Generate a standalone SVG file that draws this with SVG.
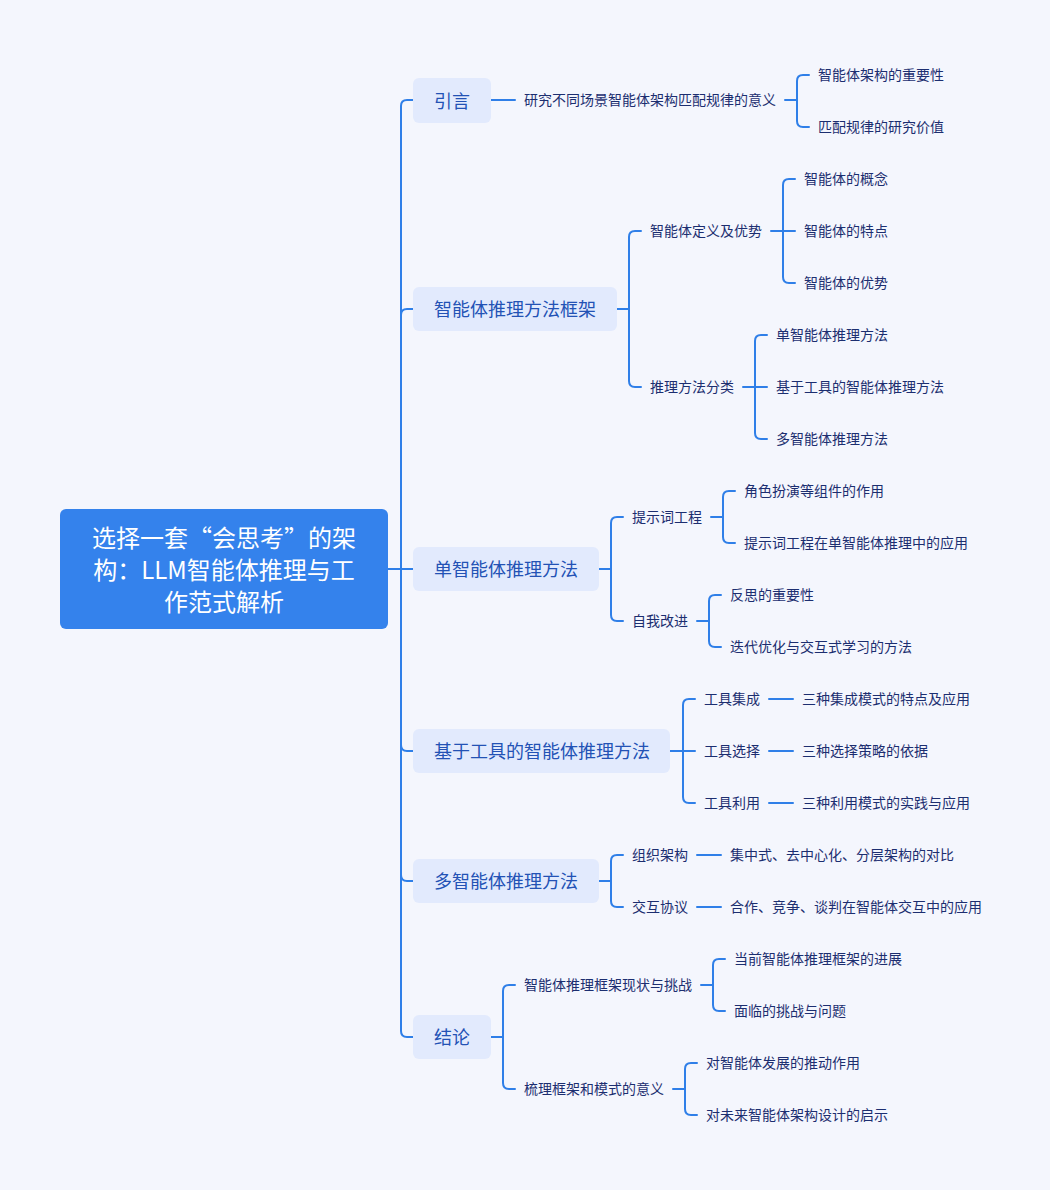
<svg xmlns="http://www.w3.org/2000/svg" width="1050" height="1190" viewBox="0 0 1050 1190">
<style>
.ln{fill:none;stroke:#2f7fe8;stroke-width:2;stroke-linecap:round}
.l1r{fill:#e2eafd}
.t1{font-family:"Noto Sans CJK SC","Noto Sans",sans-serif;font-size:18px;fill:#2352b5;dominant-baseline:central;transform:translateY(-1px)}
.t2{font-family:"Noto Sans CJK SC","Noto Sans",sans-serif;font-size:14px;fill:#1c2e70;dominant-baseline:central;transform:translateY(-1px)}
.t0{font-family:"Noto Sans CJK SC","Noto Sans",sans-serif;font-size:24px;fill:#ffffff;dominant-baseline:central;text-anchor:middle;transform:translateY(-1px)}
</style>
<rect width="1050" height="1190" fill="#f4f6fd"/>
<g id="connectors">
<path class="ln" d="M388,569 H401"/>
<path class="ln" d="M401,569 V106 Q401,100 407,100 H413"/>
<path class="ln" d="M401,569 V315 Q401,309 407,309 H413"/>
<path class="ln" d="M401,569 H413"/>
<path class="ln" d="M401,569 V745 Q401,751 407,751 H413"/>
<path class="ln" d="M401,569 V875 Q401,881 407,881 H413"/>
<path class="ln" d="M401,569 V1031 Q401,1037 407,1037 H413"/>
<path class="ln" d="M491,100 H515"/>
<path class="ln" d="M785,100 H797"/>
<path class="ln" d="M797,100 V81 Q797,75 803,75 H809"/>
<path class="ln" d="M797,100 V121 Q797,127 803,127 H809"/>
<path class="ln" d="M617,309 H629"/>
<path class="ln" d="M629,309 V237 Q629,231 635,231 H641"/>
<path class="ln" d="M629,309 V381 Q629,387 635,387 H641"/>
<path class="ln" d="M771,231 H783"/>
<path class="ln" d="M783,231 V185 Q783,179 789,179 H795"/>
<path class="ln" d="M783,231 H795"/>
<path class="ln" d="M783,231 V277 Q783,283 789,283 H795"/>
<path class="ln" d="M743,387 H755"/>
<path class="ln" d="M755,387 V341 Q755,335 761,335 H767"/>
<path class="ln" d="M755,387 H767"/>
<path class="ln" d="M755,387 V433 Q755,439 761,439 H767"/>
<path class="ln" d="M599,569 H611"/>
<path class="ln" d="M611,569 V523 Q611,517 617,517 H623"/>
<path class="ln" d="M611,569 V615 Q611,621 617,621 H623"/>
<path class="ln" d="M711,517 H723"/>
<path class="ln" d="M723,517 V497 Q723,491 729,491 H735"/>
<path class="ln" d="M723,517 V537 Q723,543 729,543 H735"/>
<path class="ln" d="M697,621 H709"/>
<path class="ln" d="M709,621 V601 Q709,595 715,595 H721"/>
<path class="ln" d="M709,621 V641 Q709,647 715,647 H721"/>
<path class="ln" d="M670,751 H683"/>
<path class="ln" d="M683,751 V705 Q683,699 689,699 H695"/>
<path class="ln" d="M683,751 H695"/>
<path class="ln" d="M683,751 V797 Q683,803 689,803 H695"/>
<path class="ln" d="M769,699 H793"/>
<path class="ln" d="M769,751 H793"/>
<path class="ln" d="M769,803 H793"/>
<path class="ln" d="M599,881 H611"/>
<path class="ln" d="M611,881 V861 Q611,855 617,855 H623"/>
<path class="ln" d="M611,881 V901 Q611,907 617,907 H623"/>
<path class="ln" d="M697,855 H721"/>
<path class="ln" d="M697,907 H721"/>
<path class="ln" d="M491,1037 H503"/>
<path class="ln" d="M503,1037 V991 Q503,985 509,985 H515"/>
<path class="ln" d="M503,1037 V1083 Q503,1089 509,1089 H515"/>
<path class="ln" d="M701,985 H713"/>
<path class="ln" d="M713,985 V965 Q713,959 719,959 H725"/>
<path class="ln" d="M713,985 V1005 Q713,1011 719,1011 H725"/>
<path class="ln" d="M673,1089 H685"/>
<path class="ln" d="M685,1089 V1069 Q685,1063 691,1063 H697"/>
<path class="ln" d="M685,1089 V1109 Q685,1115 691,1115 H697"/>
</g>
<g id="root">
<rect x="60" y="509" width="328" height="120" rx="6" fill="#3482ec"/>
<text class="t0" x="224" y="537">选择一套“会思考”的架</text>
<text class="t0" x="224" y="569">构：LLM智能体推理与工</text>
<text class="t0" x="224" y="601">作范式解析</text>
</g>
<g id="n-intro">
<rect class="l1r" x="413" y="78" width="78" height="45" rx="6"/>
<text class="t1" x="434" y="100.5">引言</text>
</g>
<g id="n-intro-1"><text class="t2" x="524" y="100">研究不同场景智能体架构匹配规律的意义</text></g>
<g id="n-intro-1-1"><text class="t2" x="818" y="75">智能体架构的重要性</text></g>
<g id="n-intro-1-2"><text class="t2" x="818" y="127">匹配规律的研究价值</text></g>
<g id="n-frame">
<rect class="l1r" x="413" y="287" width="204" height="44" rx="6"/>
<text class="t1" x="434" y="309">智能体推理方法框架</text>
</g>
<g id="n-frame-1"><text class="t2" x="650" y="231">智能体定义及优势</text></g>
<g id="n-frame-1-1"><text class="t2" x="804" y="179">智能体的概念</text></g>
<g id="n-frame-1-2"><text class="t2" x="804" y="231">智能体的特点</text></g>
<g id="n-frame-1-3"><text class="t2" x="804" y="283">智能体的优势</text></g>
<g id="n-frame-2"><text class="t2" x="650" y="387">推理方法分类</text></g>
<g id="n-frame-2-1"><text class="t2" x="776" y="335">单智能体推理方法</text></g>
<g id="n-frame-2-2"><text class="t2" x="776" y="387">基于工具的智能体推理方法</text></g>
<g id="n-frame-2-3"><text class="t2" x="776" y="439">多智能体推理方法</text></g>
<g id="n-single">
<rect class="l1r" x="413" y="547" width="186" height="44" rx="6"/>
<text class="t1" x="434" y="569">单智能体推理方法</text>
</g>
<g id="n-single-1"><text class="t2" x="632" y="517">提示词工程</text></g>
<g id="n-single-1-1"><text class="t2" x="744" y="491">角色扮演等组件的作用</text></g>
<g id="n-single-1-2"><text class="t2" x="744" y="543">提示词工程在单智能体推理中的应用</text></g>
<g id="n-single-2"><text class="t2" x="632" y="621">自我改进</text></g>
<g id="n-single-2-1"><text class="t2" x="730" y="595">反思的重要性</text></g>
<g id="n-single-2-2"><text class="t2" x="730" y="647">迭代优化与交互式学习的方法</text></g>
<g id="n-tool">
<rect class="l1r" x="413" y="729" width="257" height="44" rx="6"/>
<text class="t1" x="434" y="751">基于工具的智能体推理方法</text>
</g>
<g id="n-tool-1"><text class="t2" x="704" y="699">工具集成</text></g>
<g id="n-tool-1-1"><text class="t2" x="802" y="699">三种集成模式的特点及应用</text></g>
<g id="n-tool-2"><text class="t2" x="704" y="751">工具选择</text></g>
<g id="n-tool-2-1"><text class="t2" x="802" y="751">三种选择策略的依据</text></g>
<g id="n-tool-3"><text class="t2" x="704" y="803">工具利用</text></g>
<g id="n-tool-3-1"><text class="t2" x="802" y="803">三种利用模式的实践与应用</text></g>
<g id="n-multi">
<rect class="l1r" x="413" y="859" width="186" height="44" rx="6"/>
<text class="t1" x="434" y="881">多智能体推理方法</text>
</g>
<g id="n-multi-1"><text class="t2" x="632" y="855">组织架构</text></g>
<g id="n-multi-1-1"><text class="t2" x="730" y="855">集中式、去中心化、分层架构的对比</text></g>
<g id="n-multi-2"><text class="t2" x="632" y="907">交互协议</text></g>
<g id="n-multi-2-1"><text class="t2" x="730" y="907">合作、竞争、谈判在智能体交互中的应用</text></g>
<g id="n-concl">
<rect class="l1r" x="413" y="1015" width="78" height="44" rx="6"/>
<text class="t1" x="434" y="1037">结论</text>
</g>
<g id="n-concl-1"><text class="t2" x="524" y="985">智能体推理框架现状与挑战</text></g>
<g id="n-concl-1-1"><text class="t2" x="734" y="959">当前智能体推理框架的进展</text></g>
<g id="n-concl-1-2"><text class="t2" x="734" y="1011">面临的挑战与问题</text></g>
<g id="n-concl-2"><text class="t2" x="524" y="1089">梳理框架和模式的意义</text></g>
<g id="n-concl-2-1"><text class="t2" x="706" y="1063">对智能体发展的推动作用</text></g>
<g id="n-concl-2-2"><text class="t2" x="706" y="1115">对未来智能体架构设计的启示</text></g>
</svg>
